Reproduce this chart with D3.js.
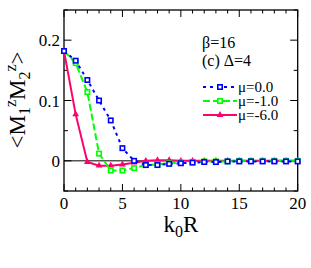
<!DOCTYPE html>
<html><head><meta charset="utf-8">
<script src="https://cdn.jsdelivr.net/npm/d3@7"></script>
<style>body{margin:0;background:#fff}svg{display:block}svg text{font-family:"Liberation Serif","Times New Roman","DejaVu Serif",serif !important}</style>
</head><body><svg id="c" width="311" height="268"></svg>
<script>
const kR = d3.range(0, 21);
const mu0 = [0.182,0.166,0.134,0.100,0.067,0.021,0.000,-0.007,-0.007,-0.005,-0.004,-0.003,-0.002,-0.002,-0.001,-0.001,-0.001,-0.001,-0.001,-0.001,-0.001];
const mu1 = [0.182,0.162,0.114,0.012,-0.016,-0.016,-0.012,-0.007,-0.006,-0.004,-0.003,-0.002,-0.001,-0.001,-0.001,0,0,0,0,0,0];
const mu6 = [0.182,0.077,-0.002,-0.008,-0.008,-0.006,-0.003,0.000,0.001,0.001,0.000,0,0,0,0,0,0,0,0,0,0];
const seriesNames = ["μ=0.0","μ=-1.0","μ=-6.0"];
const xTicks = [0,5,10,15,20];
const yTicks = [0,0.1,0.2];

const svg = d3.select("#c");
const L=64,R=297.7,T=10,B=191;
const x = d3.scaleLinear().domain([0,20]).range([L,R]);
const y = d3.scaleLinear().domain([-0.05,0.25]).range([B,T]);

svg.append("line").attr("x1",L).attr("x2",R).attr("y1",y(0)).attr("y2",y(0)).attr("stroke","#000").attr("stroke-width",1);
svg.append("rect").attr("x",L).attr("y",T).attr("width",R-L).attr("height",B-T).attr("fill","none").attr("stroke","#000").attr("stroke-width",1.3);

const g = svg.append("g").attr("stroke","#000").attr("stroke-width",1);
d3.range(0,21).forEach(v=>{
  const len = v%5===0?7:3.5;
  g.append("line").attr("x1",x(v)).attr("x2",x(v)).attr("y1",B).attr("y2",B-len);
  g.append("line").attr("x1",x(v)).attr("x2",x(v)).attr("y1",T).attr("y2",T+len);
});
[-0.05,0,0.05,0.1,0.15,0.2,0.25].forEach(v=>{
  const major = Math.abs(Math.round(v*10)-v*10)<1e-9;
  const len = major?7.5:4;
  g.append("line").attr("y1",y(v)).attr("y2",y(v)).attr("x1",L).attr("x2",L+len);
  g.append("line").attr("y1",y(v)).attr("y2",y(v)).attr("x1",R).attr("x2",R-len);
});

xTicks.forEach(v=>{
  svg.append("text").attr("x",x(v)).attr("y",208.5).attr("text-anchor","middle").attr("font-size",17).text(v);
});
yTicks.forEach(v=>{
  svg.append("text").attr("x",60).attr("y",y(v)+6).attr("text-anchor","end").attr("font-size",17).text(v===0?"0":v.toFixed(1));
});

const xl = svg.append("text").attr("x",181).attr("y",231.5).attr("text-anchor","middle").attr("font-size",23);
xl.append("tspan").text("k");
xl.append("tspan").attr("font-size",16).attr("dy",5).text("0");
xl.append("tspan").attr("dy",-5).text("R");

const yl = svg.append("text").attr("transform","translate(25,100) rotate(-90)").attr("text-anchor","middle").attr("font-size",23);
yl.append("tspan").text("<M");
yl.append("tspan").attr("font-size",16).attr("dy",5).text("1");
yl.append("tspan").attr("font-size",16).attr("dy",-14).text("z");
yl.append("tspan").attr("dy",9).text("M");
yl.append("tspan").attr("font-size",16).attr("dy",5).text("2");
yl.append("tspan").attr("font-size",16).attr("dy",-14).text("z");
yl.append("tspan").attr("dy",9).text(">");

const styles = [
  {data:mu0,color:"#0000ff",dash:"3,4",marker:"sq"},
  {data:mu1,color:"#00ff00",dash:"7,3",marker:"sq"},
  {data:mu6,color:"#ff0070",dash:null,marker:"tri"}
];
const line = d3.line().x((d,i)=>x(kR[i])).y(d=>y(d));
function marker(sel, s){
  if(s.marker==="sq"){
    sel.append("rect").attr("x",-2.2).attr("y",-2.2).attr("width",4.4).attr("height",4.4).attr("fill","#fff").attr("stroke",s.color).attr("stroke-width",1.6);
  } else {
    sel.append("path").attr("d",d3.symbol(d3.symbolTriangle,20)()).attr("fill",s.color);
  }
}
[2,1,0].forEach(k=>{
  const s = styles[k];
  const p = svg.append("path").attr("d",line(s.data)).attr("fill","none").attr("stroke",s.color).attr("stroke-width",2);
  if(s.dash) p.attr("stroke-dasharray",s.dash);
  s.data.forEach((d,i)=>{
    const m = svg.append("g").attr("transform",`translate(${x(kR[i])},${y(d)})`);
    marker(m,s);
  });
});

svg.append("text").attr("x",202).attr("y",47.5).attr("font-size",16).text("β=16");
svg.append("text").attr("x",202).attr("y",66).attr("font-size",16).text("(c) Δ=4");

const ly = [87,101,115];
styles.forEach((s,k)=>{
  const l = svg.append("line").attr("x1",203).attr("x2",237).attr("y1",ly[k]).attr("y2",ly[k]).attr("stroke",s.color).attr("stroke-width",2);
  if(s.dash) l.attr("stroke-dasharray",s.dash);
  const m = svg.append("g").attr("transform",`translate(220,${ly[k]})`);
  marker(m,s);
  svg.append("text").attr("x",238).attr("y",ly[k]+5).attr("font-size",15).text(seriesNames[k]);
});
</script></body></html>
